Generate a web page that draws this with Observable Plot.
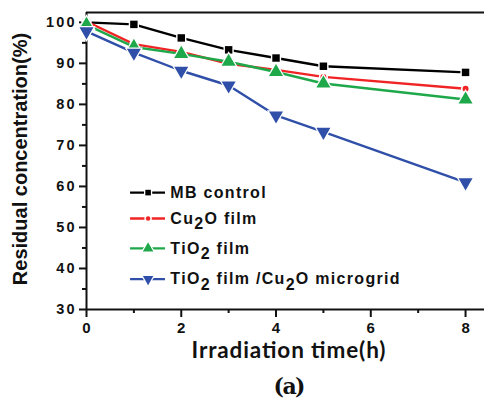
<!DOCTYPE html>
<html>
<head>
<meta charset="utf-8">
<script src="https://cdn.jsdelivr.net/npm/d3@7"></script>
<script src="https://cdn.jsdelivr.net/npm/@observablehq/plot@0.6"></script>
<style>
  html, body { margin: 0; padding: 0; background: #fff; }
  #chart svg { display: block; }
</style>
</head>
<body>
<div id="chart"></div>
<script>
// ---- data ----
const time = [0, 1, 2, 3, 4, 5, 8];
const mbControl = [100, 99.5, 96.2, 93.3, 91.3, 89.3, 87.8];
const cu2oFilm = [100.2, 94.7, 92.8, 89.9, 88.4, 86.7, 83.8];
const tio2Film = [99.4, 94.0, 92.3, 90.4, 87.9, 85.1, 81.2];
const tio2Cu2o = [97.8, 92.6, 88.2, 84.6, 77.3, 73.3, 61.0];

const seriesNames = ["MB control", "Cu2O film", "TiO2 film", "TiO2 film /Cu2O microgrid"];
const seriesColors = ["#000000", "#f02424", "#1ea84a", "#2f4fa8"];
const seriesSymbols = ["square", "circle", "triangle", "triangle"];
const seriesRotate = [0, 0, 0, 180];
const seriesR = [4.2, 3, 5.2, 5.2];

const yMajor = [30, 40, 50, 60, 70, 80, 90, 100];
const yMinor = [35, 45, 55, 65, 75, 85, 95];
const xMajor = [0, 2, 4, 6, 8];
const xMinor = [1, 3, 5, 7];

const xLabel = "Irradiation time(h)";
const yLabel = "Residual concentration(%)";
const caption = "(a)";

// legend layout (in data units)
const legendY = [58.5, 52.2, 44.9, 37.4];
const legendX1 = 0.93, legendXm = 1.30, legendX2 = 1.667, legendXt = 1.77;

const allValues = [mbControl, cu2oFilm, tio2Film, tio2Cu2o];
const rows = [];
allValues.forEach((vals, s) => time.forEach((t, i) => rows.push({s, t, v: vals[i]})));
const legend = seriesNames.map((name, s) => ({s, name, y: legendY[s]}));

const marks = [
  Plot.axisY(yMajor, {tickSize: 7, tickPadding: 5, fontSize: 14.5, fontWeight: "bold", label: null, strokeWidth: 2}),
  Plot.axisY(yMinor, {tickSize: 4, tickFormat: () => "", label: null, strokeWidth: 2}),
  Plot.axisX(xMajor, {tickSize: 8, tickPadding: 5, fontSize: 15, fontWeight: "bold", label: null, strokeWidth: 2}),
  Plot.axisX(xMinor, {tickSize: 4, tickFormat: () => "", label: null, strokeWidth: 2}),
  Plot.ruleY([102.4], {strokeWidth: 2}),
  Plot.ruleY([30], {strokeWidth: 2}),
  Plot.ruleX([0], {strokeWidth: 2}),
];

for (let s = 0; s < 4; s++) {
  const data = rows.filter(d => d.s === s);
  marks.push(
    Plot.line(data, {x: "t", y: "v", stroke: seriesColors[s], strokeWidth: 2.4}),
    Plot.dot(data, {x: "t", y: "v", symbol: seriesSymbols[s], r: seriesR[s] + 1.6, fill: "white", stroke: "none", rotate: seriesRotate[s]}),
    Plot.dot(data, {x: "t", y: "v", symbol: seriesSymbols[s], r: seriesR[s], fill: seriesColors[s], stroke: "none", rotate: seriesRotate[s]})
  );
  const lg = [legend[s]];
  marks.push(
    Plot.ruleY(lg, {y: "y", x1: legendX1, x2: legendX2, stroke: seriesColors[s], strokeWidth: 2.4}),
    Plot.dot(lg, {x: legendXm, y: "y", symbol: seriesSymbols[s], r: seriesR[s] * 0.75 + 1.5, fill: "white", rotate: seriesRotate[s]}),
    Plot.dot(lg, {x: legendXm, y: "y", symbol: seriesSymbols[s], r: seriesR[s] * 0.75, fill: seriesColors[s], rotate: seriesRotate[s]}),
  );
}
marks.push(
  Plot.text(legend, {x: legendXt, y: "y", text: "name", textAnchor: "start", fontSize: 16, fontWeight: "bold", fill: "#111"}),
  Plot.text([yLabel], {frameAnchor: "left", textAnchor: "middle", dx: -66, dy: -2, rotate: -90, fontSize: 20, fontWeight: "bold", fill: "#111"}),
  Plot.text([xLabel], {frameAnchor: "bottom", dx: 3, dy: 48.5, fontSize: 22.5, fontWeight: "bold", fontFamily: "Lato", fill: "#111"}),
  Plot.text([caption], {frameAnchor: "bottom", dx: 4, dy: 84.5, fontSize: 22, fontWeight: "bold", fontFamily: "'DejaVu Serif'", fill: "#111"})
);

const chart = Plot.plot({
  width: 484,
  height: 405,
  marginTop: 12,
  marginLeft: 86,
  marginRight: 0,
  marginBottom: 96,
  x: {domain: [0, 8.4]},
  y: {domain: [30, 102.4]},
  style: {fontFamily: "'Liberation Sans', Arial, sans-serif", color: "#111", background: "white", overflow: "visible"},
  marks
});
document.getElementById("chart").appendChild(chart);

// letter spacing via textLength, & subscripts
function spread(el, ls, target) {
  const n = el.textContent.length;
  const w = el.getComputedTextLength();
  el.setAttribute("lengthAdjust", "spacing");
  el.setAttribute("textLength", target != null ? target : w + ls * (n - 1));
}
const svg = d3.select(chart);
svg.selectAll("g[aria-label='y-axis tick label'] text, g[aria-label='x-axis tick label'] text").each(function() {
  if (this.textContent.length > 1) spread(this, 2.2);
});
svg.selectAll("text").each(function() {
  const t = this.textContent;
  if (seriesNames.includes(t)) {
    const parts = t.split(/(?<=Cu|TiO)2/);
    this.textContent = "";
    parts.forEach((p, i) => {
      if (i > 0) {
        const sub = document.createElementNS("http://www.w3.org/2000/svg", "tspan");
        sub.setAttribute("dy", "0.33em");
        sub.textContent = "2";
        this.appendChild(sub);
      }
      const ts = document.createElementNS("http://www.w3.org/2000/svg", "tspan");
      if (i > 0) ts.setAttribute("dy", "-0.33em");
      ts.textContent = p;
      this.appendChild(ts);
    });
    spread(this, 1.3);
  } else if (t === xLabel) {
    spread(this, 0, 194);
  } else if (t === caption) {
    spread(this, 0, 32);
  }
});
</script>
</body>
</html>
